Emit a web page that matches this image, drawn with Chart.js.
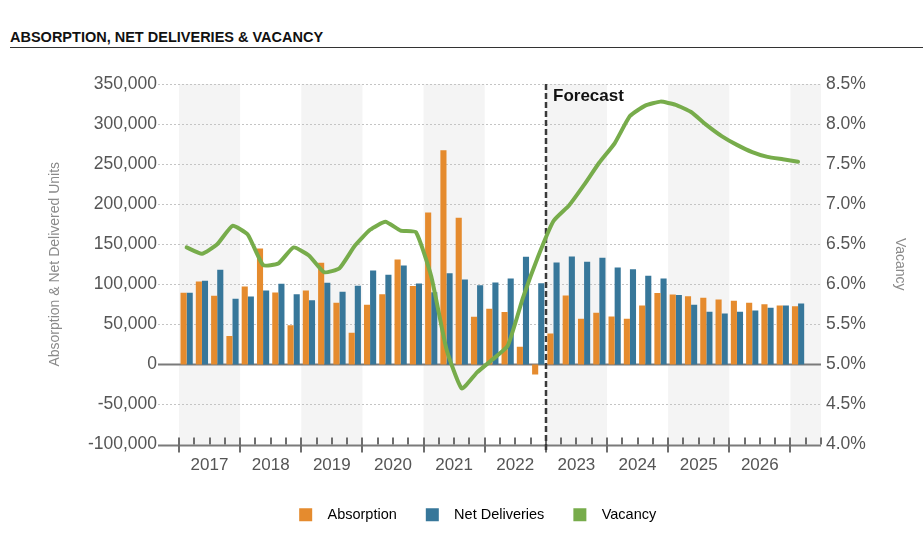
<!DOCTYPE html>
<html>
<head>
<meta charset="utf-8">
<script src="https://cdn.jsdelivr.net/npm/chart.js@4.4.1/dist/chart.umd.min.js"></script>
<style>
  html, body { margin: 0; padding: 0; background: #fff; }
  #wrap { position: relative; width: 923px; height: 536px; overflow: hidden; }
  #title {
    position: absolute; left: 10px; top: 29px; width: 913px;
    font: bold 14.5px "Liberation Sans", Arial, sans-serif; line-height: 16px;
    color: #111; border-bottom: 1px solid #333; padding-bottom: 2px;
  }
  #chart { position: absolute; left: 0; top: 0; }
</style>
</head>
<body>
<div id="wrap">
  <div id="title">ABSORPTION, NET DELIVERIES &amp; VACANCY</div>
  <canvas id="chart" width="923" height="536"></canvas>
</div>
<script>
// Quarterly slots 2017 Q1 .. 2027 Q2 (data runs to 2027 Q1)
const years = ['2017', '2018', '2019', '2020', '2021', '2022', '2023', '2024', '2025', '2026', '2027'];
const quarters = years.flatMap(y => ['Q1', 'Q2', 'Q3', 'Q4'].map(q => y + ' ' + q)).slice(0, 42);
const forecastStart = '2023 Q1';

const absorption = [
  89400, 103500, 85600, 35300,
  97300, 144700, 89800, 49000,
  92300, 126800, 76900, 39500,
  74400, 87700, 131000, 97700,
  189600, 267300, 182900, 59400,
  69400, 65300, 22000, -12500,
  38700, 86000, 57000, 64400,
  59900, 57000, 73600, 89000,
  87300, 85200, 83100, 81100,
  79400, 76900, 75200, 73600,
  72700
];

const netDeliveries = [
  89400, 104300, 118000, 81900,
  84800, 92300, 100600, 87700,
  80200, 101800, 90600, 98100,
  117200, 111800, 123500, 101000,
  90200, 113900, 106000, 98900,
  102300, 107300, 134300, 101400,
  127200, 134700, 128000, 133000,
  121000, 118900, 110600, 107300,
  86500, 74400, 65700, 63600,
  65700, 67300, 70700, 73600,
  76100
];

const vacancy = [
  6.46, 6.38, 6.50, 6.73,
  6.62, 6.24, 6.26, 6.46,
  6.36, 6.15, 6.20, 6.48,
  6.68, 6.78, 6.67, 6.65,
  6.10, 5.19, 4.70, 4.90,
  5.06, 5.23, 5.83, 6.35,
  6.79, 6.98, 7.24, 7.52,
  7.76, 8.10, 8.23, 8.28,
  8.24, 8.15, 7.99, 7.85,
  7.74, 7.65, 7.59, 7.56,
  7.53
];

const ORANGE = '#E58B2E';
const BLUE = '#37779A';
const GREEN = '#77AC4B';
const TEXT = '#555555';
const FONT = '"Liberation Sans", Arial, sans-serif';

Chart.defaults.font.family = FONT;

// bands, dotted grid, axis ticks and forecast marker
const backdrop = {
  id: 'backdrop',
  beforeDatasetsDraw(chart) {
    const { ctx, chartArea: a, scales } = chart;
    const x = scales.x, y = scales.y;
    const edge = k => x.getPixelForValue(k - 0.5);
    const n = quarters.length;
    ctx.save();

    ctx.fillStyle = '#f4f4f4';
    for (let k = 0; k < n; k += 8) {
      const x0 = edge(k), x1 = edge(Math.min(k + 4, n));
      ctx.fillRect(x0, a.top, x1 - x0, a.bottom - a.top);
    }

    const gx0 = a.left - 21;
    y.ticks.forEach(t => {
      const py = Math.round(y.getPixelForValue(t.value)) + 0.5;
      ctx.beginPath();
      if (t.value === 0 || t.value === y.min) {
        ctx.setLineDash([]);
        ctx.strokeStyle = '#7a7a7a';
        ctx.lineWidth = 2;
      } else {
        ctx.setLineDash([2, 2]);
        ctx.strokeStyle = '#c4c4c4';
        ctx.lineWidth = 1;
      }
      ctx.moveTo(gx0, py);
      ctx.lineTo(a.right, py);
      ctx.stroke();
    });

    ctx.setLineDash([]);
    ctx.strokeStyle = '#6e6e6e';
    ctx.lineWidth = 2;
    for (let k = 0; k <= n; k++) {
      const px = Math.round(edge(k));
      ctx.beginPath();
      ctx.moveTo(px, a.bottom - 7);
      ctx.lineTo(px, k % 4 === 0 ? a.bottom + 8 : a.bottom);
      ctx.stroke();
    }

    const fx = Math.round(edge(quarters.indexOf(forecastStart)));
    ctx.strokeStyle = '#3a3a3a';
    ctx.lineWidth = 2.5;
    ctx.setLineDash([6, 3]);
    ctx.beginPath();
    ctx.moveTo(fx, a.top);
    ctx.lineTo(fx, a.bottom + 8);
    ctx.stroke();
    ctx.setLineDash([]);

    ctx.fillStyle = '#111';
    ctx.font = 'bold 17px ' + FONT;
    ctx.textBaseline = 'alphabetic';
    ctx.fillText('Forecast', fx + 7, a.top + 16.5);
    ctx.restore();
  }
};

new Chart(document.getElementById('chart'), {
  type: 'bar',
  data: {
    labels: quarters,
    datasets: [
      {
        label: 'Absorption',
        data: absorption,
        backgroundColor: ORANGE,
        yAxisID: 'y',
        order: 1,
        categoryPercentage: 0.8,
        barPercentage: 1.0
      },
      {
        label: 'Net Deliveries',
        data: netDeliveries,
        backgroundColor: BLUE,
        yAxisID: 'y',
        order: 1,
        categoryPercentage: 0.8,
        barPercentage: 1.0
      },
      {
        type: 'line',
        label: 'Vacancy',
        data: vacancy,
        borderColor: GREEN,
        backgroundColor: GREEN,
        borderWidth: 4,
        borderJoinStyle: 'round',
        borderCapStyle: 'round',
        pointRadius: 0,
        tension: 0.15,
        yAxisID: 'y2',
        order: 0
      }
    ]
  },
  options: {
    responsive: false,
    animation: false,
    layout: { padding: { left: 43, right: 10.6, top: 84, bottom: 4 } },
    plugins: {
      tooltip: { enabled: false },
      legend: {
        position: 'bottom',
        labels: {
          boxWidth: 13,
          boxHeight: 13,
          padding: 29,
          color: TEXT,
          font: { size: 14.5 },
          generateLabels: chart => chart.data.datasets.map((ds, i) => ({
            text: '  ' + ds.label,
            fillStyle: ds.backgroundColor,
            strokeStyle: ds.backgroundColor,
            lineWidth: 0,
            hidden: false,
            datasetIndex: i
          }))
        }
      }
    },
    scales: {
      x: {
        offset: true,
        grid: { display: false, drawTicks: false },
        border: { display: false },
        afterFit: s => { s.height = 34; },
        ticks: {
          autoSkip: false,
          maxRotation: 0,
          padding: 11,
          labelOffset: 7.6,
          color: TEXT,
          font: { size: 17 },
          callback: (v, i) => (i % 4 === 1 && i < 40) ? quarters[i].slice(0, 4) : ''
        }
      },
      y: {
        position: 'left',
        min: -100000,
        max: 350000,
        afterFit: s => { s.width = 136; },
        grid: { display: false, drawTicks: false },
        border: { display: false },
        ticks: {
          stepSize: 50000,
          padding: 22,
          color: TEXT,
          font: { size: 17.5 },
          callback: v => v.toLocaleString('en-US')
        },
        title: {
          display: true,
          text: 'Absorption & Net Delivered Units',
          color: '#8a8a8a',
          font: { size: 14 }
        }
      },
      y2: {
        position: 'right',
        min: 4.0,
        max: 8.5,
        afterFit: s => { s.width = 91.4; },
        grid: { display: false, drawTicks: false },
        border: { display: false },
        ticks: {
          stepSize: 0.5,
          padding: 5,
          color: TEXT,
          font: { size: 17.5 },
          callback: v => v.toFixed(1) + '%'
        },
        title: {
          display: true,
          text: 'Vacancy',
          color: '#8a8a8a',
          font: { size: 14 }
        }
      }
    }
  },
  plugins: [backdrop]
});
</script>
</body>
</html>
